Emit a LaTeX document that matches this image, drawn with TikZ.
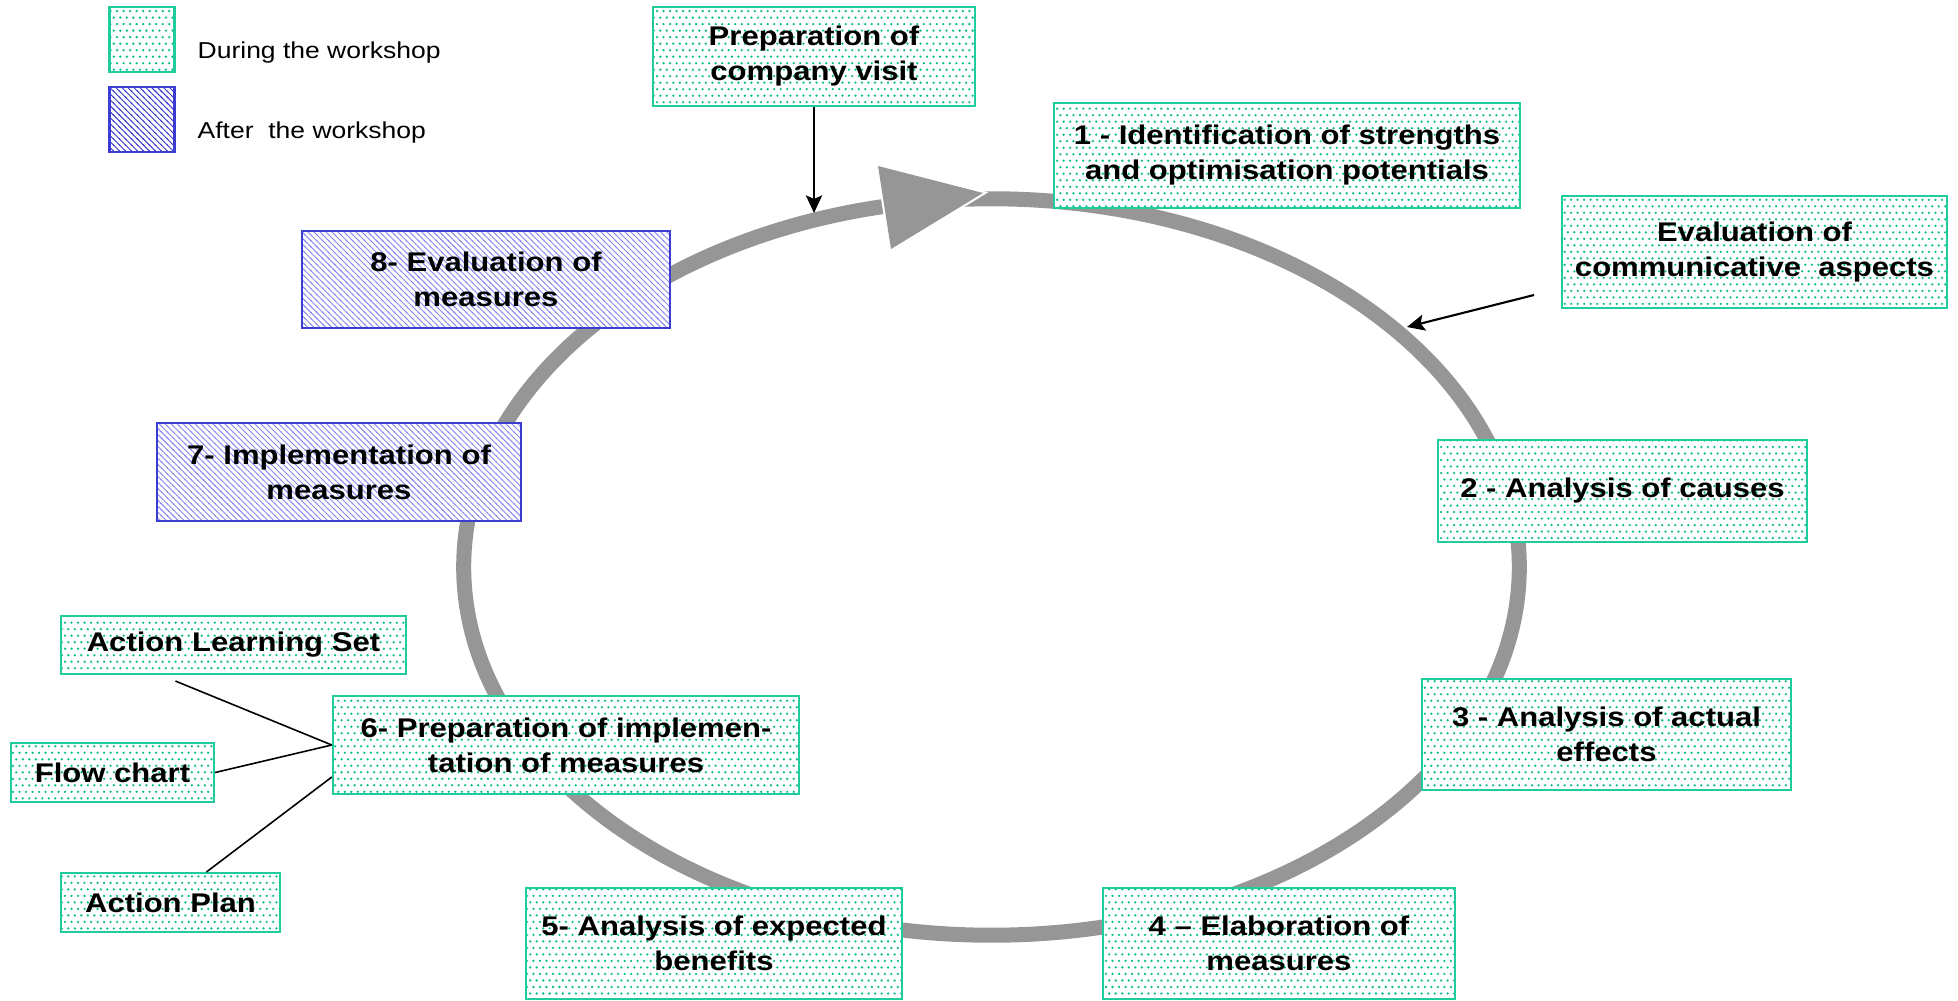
\documentclass[tikz,border=0pt]{standalone}
\usepackage{fontspec}
\newfontfamily\bxf{Liberation Sans}[FakeStretch=1.15]
\usetikzlibrary{patterns.meta,arrows.meta,calc}
\definecolor{boxgreen}{RGB}{30,205,155}
\definecolor{dotgreen}{RGB}{10,190,140}
\definecolor{boxblue}{RGB}{60,60,210}
\definecolor{hatchblue}{RGB}{140,140,240}
\definecolor{ringgray}{RGB}{150,150,150}
\tikzdeclarepattern{
  name=gdots,
  type=uncolored,
  bounding box={(-0.5pt,-0.5pt) and (2.35pt,4.2pt)},
  tile size={(1.85pt,3.7pt)},
  code={\fill (0pt,0pt) circle [radius=0.36pt]; \fill (0.925pt,1.85pt) circle [radius=0.36pt];}
}
\tikzdeclarepattern{
  name=bhatch,
  type=uncolored,
  bounding box={(-0.3pt,-0.3pt) and (2pt,2pt)},
  tile size={(1.7pt,1.7pt)},
  code={\draw[line width=0.26pt] (-0.2pt,1.9pt) -- (1.9pt,-0.2pt);}
}
\tikzset{
  boxtext/.style={inner sep=0pt, align=center, text=black,
    font=\bxf\bfseries\fontsize{7.68}{9.96}\selectfont},
  gbox/.style={boxtext, draw=boxgreen, line width=0.6pt, preaction={fill=white},
    pattern=gdots, pattern color=dotgreen},
  bbox/.style={boxtext, draw=boxblue, line width=0.6pt, preaction={fill=white},
    pattern=bhatch, pattern color=hatchblue},
  legtxt/.style={inner sep=0pt, anchor=base west, text=black,
    font=\bxf\fontsize{6.55}{8}\selectfont},
  ring/.style={draw=ringgray, line width=4.27pt},
  conn/.style={draw=black, line width=0.45pt},
  arr/.style={draw=black, line width=0.6pt, -{Stealth[length=5pt,width=4.6pt,inset=1pt]}}
}
\begin{document}
\begin{tikzpicture}[x=0.01cm,y=-0.01cm]
\useasboundingbox (0,0) rectangle (1958,1000);
% ring
\draw[ring] (991.5,567) ellipse [x radius=5.275cm, y radius=3.68cm];
\filldraw[white, line width=1.2pt, line join=miter] (878,166) -- (891,249) -- (983,193) -- cycle;
\fill[ringgray] (878,166) -- (891,249) -- (983,193) -- cycle;
% legend
\node[gbox, minimum width=0.65cm, minimum height=0.65cm] (legD) at (142,39.5) {};
\node[bbox, minimum width=0.65cm, minimum height=0.65cm, pattern color=boxblue] (legA) at (142,119.5) {};
\node[legtxt] (tD) at (197,58) {During the workshop};
\node[legtxt] (tA) at (197,138) {After\ \ the workshop};
% boxes
\node[gbox, minimum width=3.22cm, minimum height=0.99cm] (prep) at (814,56.5) {Preparation of\\company visit};
\node[gbox, minimum width=4.66cm, minimum height=1.05cm] (s1) at (1287,155.5) {1 - Identification of strengths\\and optimisation potentials};
\node[gbox, minimum width=3.85cm, minimum height=1.12cm] (evc) at (1754.5,252) {Evaluation of\\communicative\ \ aspects};
\node[gbox, minimum width=3.69cm, minimum height=1.02cm] (s2) at (1622.5,491) {2 - Analysis of causes};
\node[gbox, minimum width=3.69cm, minimum height=1.11cm] (s3) at (1606.5,734.5) {3 - Analysis of actual\\effects};
\node[gbox, minimum width=3.52cm, minimum height=1.11cm] (s4) at (1279,943.5) {4 – Elaboration of\\measures};
\node[gbox, minimum width=3.76cm, minimum height=1.11cm] (s5) at (714,943.5) {5- Analysis of expected\\benefits};
\node[gbox, minimum width=4.66cm, minimum height=0.98cm] (s6) at (566,745) {6- Preparation of implemen-\\tation of measures};
\node[bbox, minimum width=3.64cm, minimum height=0.98cm] (s7) at (339,472) {7- Implementation of\\measures};
\node[bbox, minimum width=3.68cm, minimum height=0.97cm] (s8) at (486,279.5) {8- Evaluation of\\measures};
\node[gbox, minimum width=3.45cm, minimum height=0.58cm] (als) at (233.5,645) {Action Learning Set};
\node[gbox, minimum width=2.03cm, minimum height=0.59cm] (fc) at (112.5,772.5) {Flow chart};
\node[gbox, minimum width=2.19cm, minimum height=0.59cm] (ap) at (170.5,902.5) {Action Plan};
% connectors
\coordinate (p1) at (814,213);
\draw[arr] (prep.south) -- (p1);
\coordinate (e1) at (1534,295);
\coordinate (e2) at (1407,327);
\draw[arr] (e1) -- (e2);
\draw[conn] ($(als.south)+(-58,6)$) -- (s6.west);
\draw[conn] (fc.east) -- (s6.west);
\draw[conn] ($(ap.north)+(36,0)$) -- ($(s6.west)+(0,32)$);
\end{tikzpicture}
\end{document}
